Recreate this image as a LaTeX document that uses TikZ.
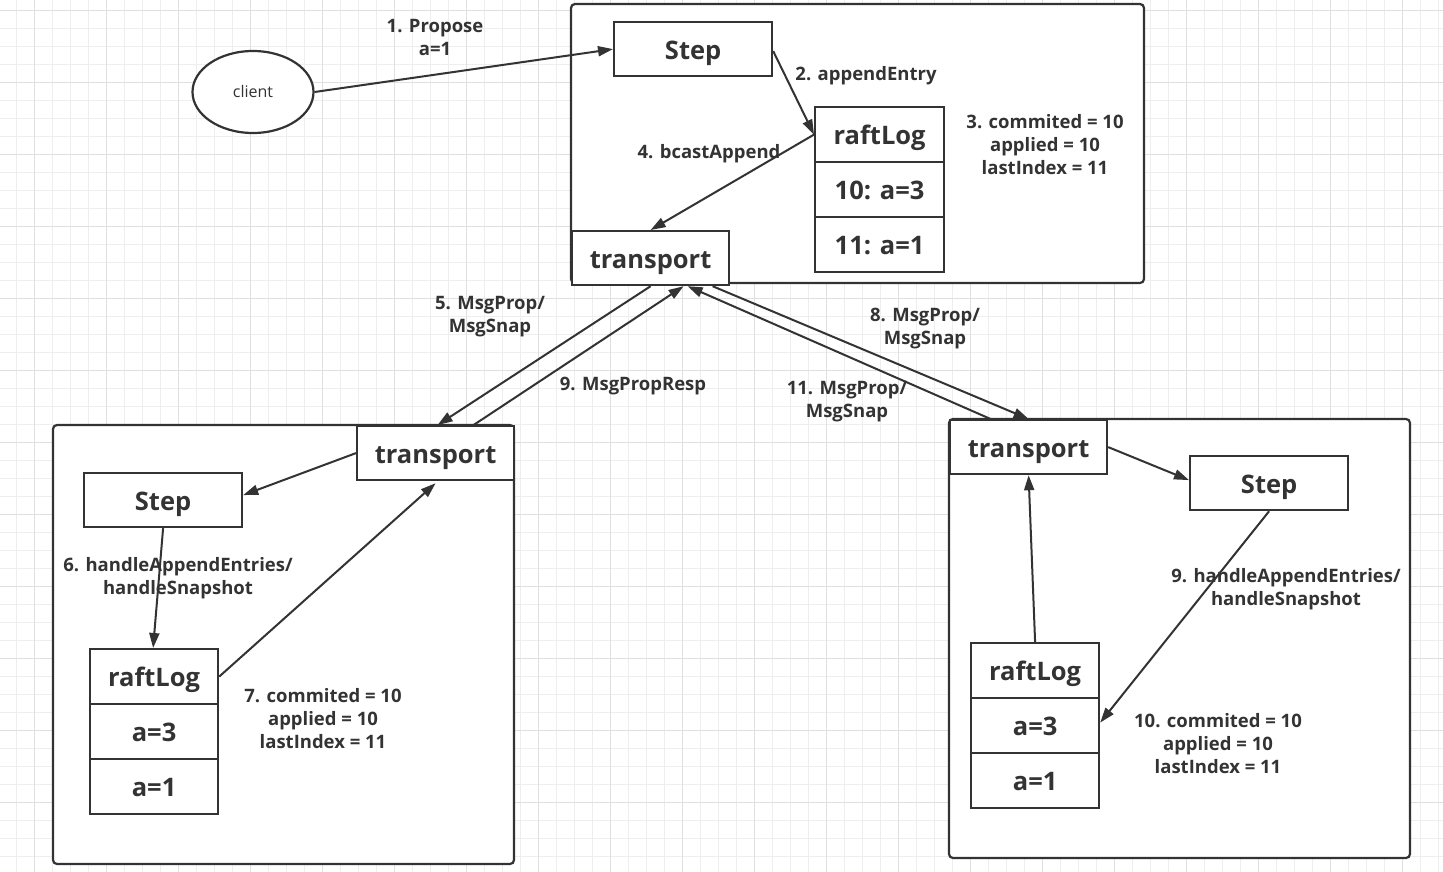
\documentclass[tikz,border=0pt]{standalone}
\usepackage{fontspec}
\setmainfont{Open Sans}
\usetikzlibrary{arrows.meta,shapes.geometric}

\definecolor{ink}{HTML}{333333}
\definecolor{gridminor}{HTML}{EEEEEE}
\definecolor{gridmajor}{HTML}{E0E0E0}

\begin{document}
\begin{tikzpicture}[x=1pt,y=-1pt,
  container/.style={draw=ink, line width=2.2pt, fill=white, rounded corners=4pt},
  box/.style={draw=ink, line width=2.2pt, fill=white, inner sep=0pt, anchor=north west,
              text height=20pt, text depth=0pt,
              font=\fontsize{25.5}{30}\selectfont\bfseries, text=ink},
  lbl/.style={align=center, font=\fontsize{18.5}{23}\selectfont\bfseries, text=ink},
  flow/.style={draw=ink, line width=2pt, -{Triangle[length=15pt,width=10pt]}},
]
\useasboundingbox (0,0) rectangle (1443,872);
\fill[white] (0,0) rectangle (1443,872);

% background grid
\foreach \i in {0,...,79} {
  \draw[gridminor, line width=1pt] ({16.7+18*\i},0) -- ({16.7+18*\i},872);
}
\foreach \i in {0,...,48} {
  \draw[gridminor, line width=1pt] (0,{10.3+18*\i}) -- (1443,{10.3+18*\i});
}
\foreach \i in {0,...,19} {
  \draw[gridmajor, line width=1pt] ({34.7+72*\i},0) -- ({34.7+72*\i},872);
}
\foreach \i in {0,...,12} {
  \draw[gridmajor, line width=1pt] (0,{10.3+72*\i}) -- (1443,{10.3+72*\i});
}

% the three raft nodes
\draw[container] (571,4) rectangle (1144,283);
\draw[container] (53,425) rectangle (514,864);
\draw[container] (949,419) rectangle (1410,858);

% client
\node[ellipse, draw=ink, line width=2.2pt, fill=white, minimum width=121pt, minimum height=82pt,
      inner sep=0pt, text=ink, font=\fontsize{16}{20}\selectfont] (client) at (253,92) {client};

% leader
\node[box, minimum width=158pt, minimum height=54pt] (stepT) at (613,21) {Step};
\node[box, minimum width=129pt, minimum height=55pt] (rlT) at (814,106) {raftLog};
\node[box, minimum width=129pt, minimum height=55pt] (r10T) at (814,161) {10: a=3};
\node[box, minimum width=129pt, minimum height=55pt] (r11T) at (814,216) {11: a=1};
\node[box, minimum width=157pt, minimum height=54pt] (trT) at (571,230) {transport};

% follower on the left
\node[box, minimum width=157pt, minimum height=54pt] (trL) at (356,425) {transport};
\node[box, minimum width=158pt, minimum height=54pt] (stepL) at (83,472) {Step};
\node[box, minimum width=128pt, minimum height=55pt] (rlL) at (89,648) {raftLog};
\node[box, minimum width=128pt, minimum height=55pt] (r3L) at (89,703) {a=3};
\node[box, minimum width=128pt, minimum height=55pt] (r1L) at (89,758) {a=1};

% follower on the right
\node[box, minimum width=157pt, minimum height=54pt] (trR) at (949,419) {transport};
\node[box, minimum width=158pt, minimum height=54pt] (stepR) at (1189,455) {Step};
\node[box, minimum width=128pt, minimum height=55pt] (rlR) at (970,642) {raftLog};
\node[box, minimum width=128pt, minimum height=55pt] (r3R) at (970,697) {a=3};
\node[box, minimum width=128pt, minimum height=55pt] (r1R) at (970,752) {a=1};

% connectors inside the leader
\draw[flow] (client.east) -- (stepT.west);
\draw[flow] ([yshift=-2pt]stepT.east) -- (rlT.west);
\draw[flow] (rlT.west) -- (trT.north);

% messages between nodes
\draw[flow] (trT.south) -- ([xshift=2pt]trL.north);
\draw[flow] ([xshift=38pt]trL.north) -- ([xshift=33pt]trT.south);
\draw[flow] ([xshift=62pt]trT.south) -- (trR.north);
\draw[flow] ([xshift=-38pt]trR.north) -- ([xshift=37pt]trT.south);

% connectors inside the left follower
\draw[flow] (trL.west) -- ([yshift=5pt]stepL.east);
\draw[flow] (stepL.south) -- ([xshift=-1pt]rlL.north);
\draw[flow] (rlL.east) -- ([yshift=-2pt]trL.south);

% connectors inside the right follower
\draw[flow] (trR.east) -- ([yshift=3pt]stepR.west);
\draw[flow] (stepR.south) -- ([yshift=3pt]r3R.east);
\draw[flow] (rlR.north) -- (trR.south);

% labels
\node[lbl] (l1) at (435,37.5) {1. Propose\\a=1};
\node[lbl] (l2) at (866,75.5) {2. appendEntry};
\node[lbl] (l3) at (1045,145) {3. commited = 10\\applied = 10\\lastIndex = 11};
\node[lbl] (l4) at (709,153.5) {4. bcastAppend};
\node[lbl] (l5) at (490,316.5) {5. MsgProp/\\MsgSnap};
\node[lbl] (l9a) at (633,386.5) {9. MsgPropResp};
\node[lbl] (l8) at (925,328.5) {8. MsgProp/\\MsgSnap};
\node[lbl] (l11) at (847,401.5) {11. MsgProp/\\MsgSnap};
\node[lbl] (l6) at (178,578.5) {6. handleAppendEntries/\\handleSnapshot};
\node[lbl] (l7) at (323,719) {7. commited = 10\\applied = 10\\lastIndex = 11};
\node[lbl] (l9b) at (1286,589.5) {9. handleAppendEntries/\\handleSnapshot};
\node[lbl] (l10) at (1218,744) {10. commited = 10\\applied = 10\\lastIndex = 11};
\end{tikzpicture}
\end{document}
